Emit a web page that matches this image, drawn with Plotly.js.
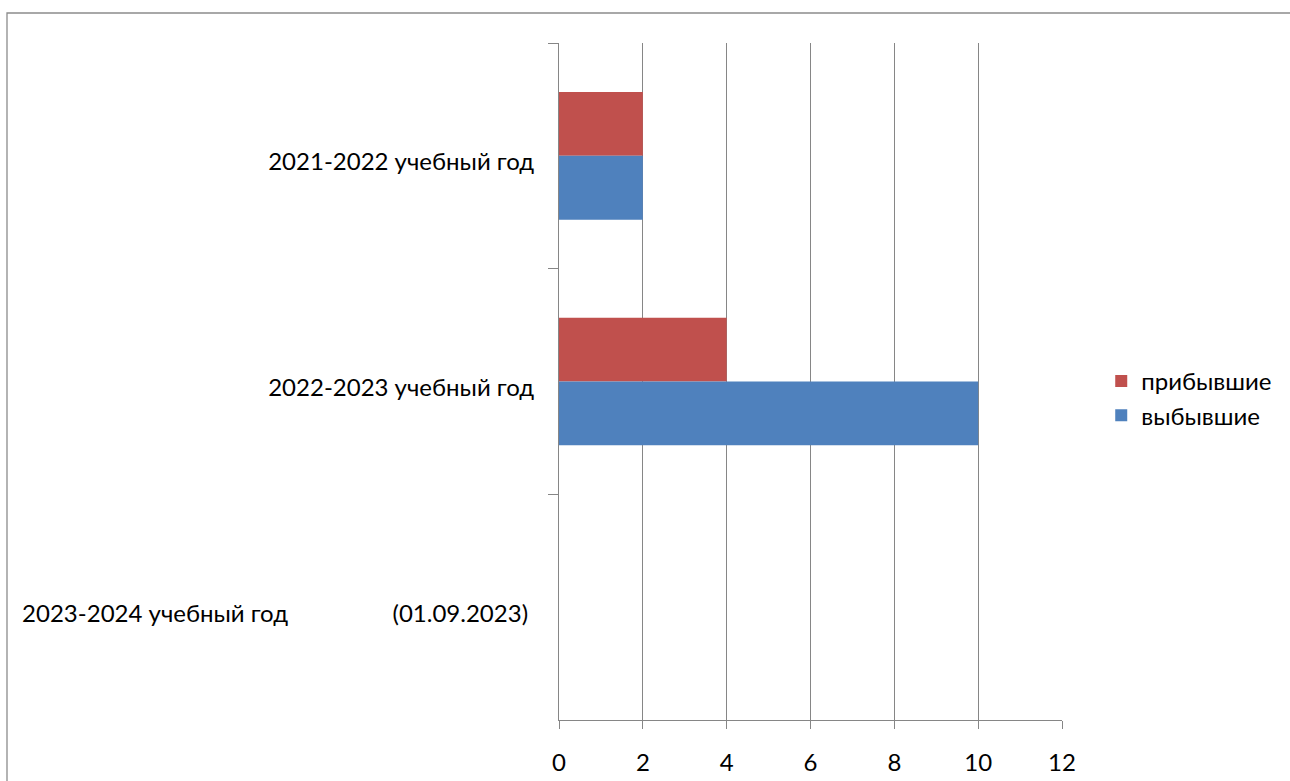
<!DOCTYPE html>
<html>
<head>
<meta charset="utf-8">
<script src="https://cdn.plot.ly/plotly-3.0.1.min.js"></script>
<style>html,body{margin:0;padding:0;background:#fff;}#chart{width:1290px;height:781px;}</style>
</head>
<body>
<div id="chart"></div>
<script>
const NB = '\u00A0';
const categories = [
  '2021-2022 учебный год',
  '2022-2023 учебный год',
  '2023-2024 учебный год' + NB.repeat(17) + '(01.09.2023)' + NB
];
const arrivedName = 'прибывшие';
const leftName = 'выбывшие';
const arrived = [2, 4, 0];
const left = [2, 10, 0];
const xTicks = [0, 2, 4, 6, 8, 10, 12];

const font = {family: 'Lato, "Open Sans", sans-serif', size: 24, color: '#000'};
const grey = '#868686';

const traces = [
  {type: 'bar', orientation: 'h', name: arrivedName, y: categories, x: arrived,
   marker: {color: '#C0504D'}, hoverinfo: 'x+name'},
  {type: 'bar', orientation: 'h', name: leftName, y: categories, x: left,
   marker: {color: '#4F81BD'}, hoverinfo: 'x+name'}
];

const layout = {
  width: 1290, height: 781,
  margin: {l: 559, r: 228, t: 43, b: 61, pad: 0},
  paper_bgcolor: '#fff', plot_bgcolor: '#fff',
  font: font,
  barmode: 'group', bargap: 0.434, bargroupgap: 0,
  showlegend: true,
  legend: {x: 1.078, y: 0.475, xanchor: 'left', yanchor: 'middle', font: font,
           bgcolor: 'rgba(0,0,0,0)', itemwidth: 30, tracegroupgap: 0},
  xaxis: {
    range: [0, 12], tickvals: xTicks, ticktext: xTicks.map(String),
    showgrid: true, gridcolor: grey, gridwidth: 1,
    zeroline: false, showline: true, linecolor: grey, linewidth: 1,
    ticks: 'outside', ticklen: 8, tickcolor: grey, tickwidth: 1,
    ticklabelstandoff: 13, tickfont: font, fixedrange: true
  },
  yaxis: {
    type: 'category', autorange: 'reversed',
    showgrid: false, zeroline: false, showline: true, linecolor: grey, linewidth: 1,
    ticks: 'outside', tickson: 'boundaries', ticklen: 10, tickcolor: grey, tickwidth: 1,
    ticklabelstandoff: 19, ticklabelshift: -6, tickfont: font, fixedrange: true
  },
  shapes: [{
    type: 'rect', xref: 'paper', yref: 'paper', layer: 'below',
    x0: (7 - 559) / 503, x1: (1310 - 559) / 503,
    y0: (720 - 800) / 677, y1: 1 + (43 - 13) / 677,
    line: {color: '#8c8c8c', width: 1.3}, fillcolor: 'rgba(0,0,0,0)'
  }]
};

Plotly.newPlot('chart', traces, layout, {displayModeBar: false, staticPlot: true});
</script>
</body>
</html>
